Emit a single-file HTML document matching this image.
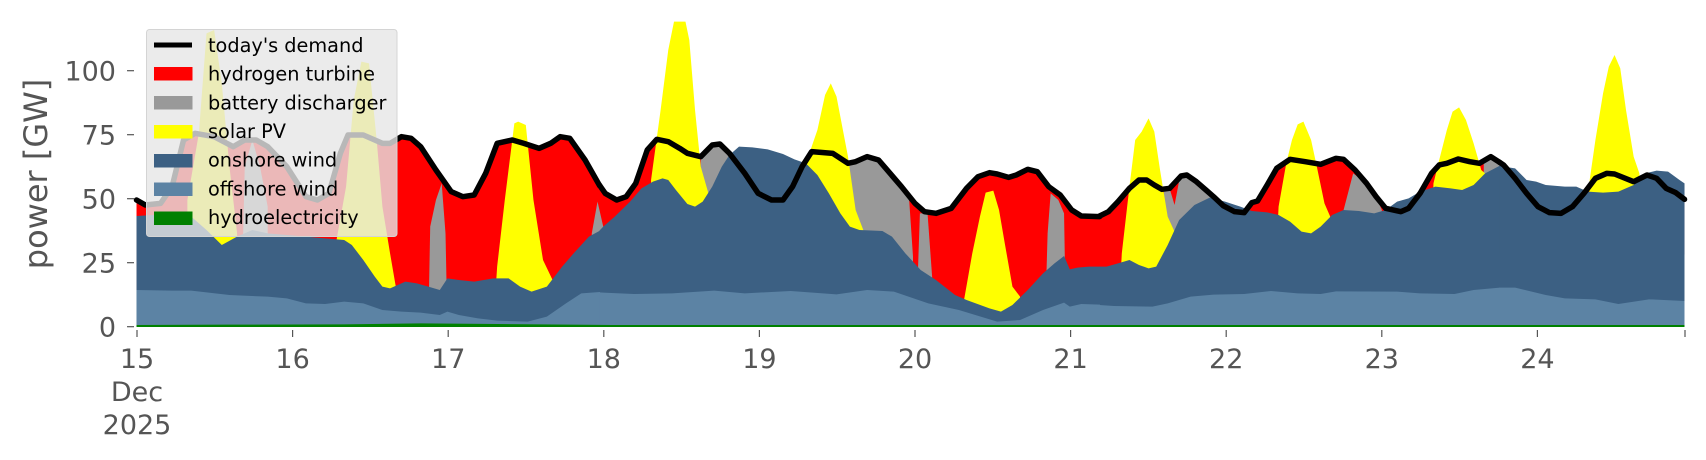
<!DOCTYPE html>
<html><head><meta charset="utf-8"><style>
html,body{margin:0;padding:0;background:#fff;}
svg{display:block;}
text{font-family:"DejaVu Sans","Liberation Sans",sans-serif;fill:#555;}
</style></head><body>
<svg width="1706" height="460" viewBox="0 0 1706 460" xmlns="http://www.w3.org/2000/svg">
<defs><clipPath id="c"><rect x="0" y="58" width="4500" height="930"/></clipPath></defs>
<g transform="scale(0.38241 0.33333)" clip-path="url(#c)">
 <g fill="#ff0000">
  <polygon points="357,600 380,615 420,610 450,560 480,420 510,400 560,410 610,440 640,420 670,420 700,440 750,500 800,590 830,600 860,580 890,460 910,405 950,405 1000,430 1020,430 1050,410 1075,415 1100,440 1140,510 1180,575 1210,590 1240,585 1270,520 1300,430 1340,420 1370,430 1410,445 1440,430 1465,410 1490,415 1530,480 1569,557 1569,980 357,980"/>
  <g transform="translate(1307.5,0)"><polygon points="260,555 275,580 305,600 330,590 355,550 385,450 410,418 440,425 470,445 490,460 525,470 555,435 575,432 600,460 640,520 675,580 710,600 740,600 765,560 790,500 815,455 870,460 890,475 910,490 930,485 960,470 990,480 1020,520 1050,560 1085,610 1110,635 1140,640 1180,625 1220,565 1250,530 1280,518 1300,522 1330,532 1350,525 1380,508 1405,515 1435,560 1465,585 1495,630 1520,648 1569,650 1569,980 260,980"/></g>
  <g transform="translate(2353.5,0)"><polygon points="522,648 545,635 570,605 600,565 625,540 645,540 665,555 685,568 705,565 735,528 750,525 775,545 800,570 820,590 845,617 875,635 900,638 920,608 935,603 960,555 985,505 1020,478 1060,485 1100,493 1140,475 1160,478 1190,510 1220,550 1245,590 1270,625 1310,635 1330,625 1360,580 1390,520 1410,495 1430,490 1460,477 1490,485 1515,490 1545,470 1569,487 1569,980 522,980"/></g>
  <g transform="translate(2892,0)"><polygon points="1029,487 1040,495 1070,535 1100,580 1130,620 1160,638 1190,640 1220,620 1250,580 1280,535 1310,520 1330,522 1380,545 1415,525 1440,535 1465,565 1490,578 1513,598 1513,980 1029,980"/></g>
 </g>
 <g fill="#999999">
  <polygon points="630,980 640,500 660,420 680,500 700,620 700,980"/>
  <polygon points="1120,980 1125,680 1140,600 1155,550 1165,700 1170,980"/>
  <g transform="translate(1307.5,0)">
   <polygon points="235,980 240,700 255,605 270,680 270,980"/>
   <polygon points="520,980 525,470 555,435 575,432 600,460 620,490 620,980"/>
   <polygon points="905,980 910,490 930,485 960,470 990,480 1020,520 1050,560 1070,600 1080,770 1080,980"/>
   <polygon points="1088,980 1098,640 1118,640 1130,830 1130,980"/>
   <polygon points="1425,980 1432,700 1440,580 1460,600 1475,640 1480,980"/>
  </g>
  <g transform="translate(2353.5,0)">
   <polygon points="690,980 690,560 705,565 735,528 750,525 775,545 800,570 820,590 830,605 830,980"/>
   <polygon points="1160,980 1160,630 1185,520 1220,550 1245,590 1260,630 1260,980"/>
  </g>
  <polygon points="3880,980 3880,490 3898,470 3915,480 3925,500 3925,980"/>
 </g>
 <g fill="#ff0000"><g transform="translate(2353.5,0)"><polygon points="705,565 732,530 718,615"/></g></g>
 <g fill="#ffff00">
  <polygon points="490,980 490,600 520,400 540,100 560,90 580,250 600,500 620,700 620,980"/>
  <polygon points="880,980 880,720 905,560 925,300 945,185 965,190 985,420 1000,620 1020,760 1035,860 1035,980"/>
  <polygon points="1290,980 1300,800 1320,600 1345,370 1355,365 1375,375 1395,600 1420,780 1445,840 1445,980"/>
  <g transform="translate(1307.5,0)">
   <polygon points="395,980 395,540 420,330 440,150 455,65 485,65 495,120 510,330 525,500 545,580 545,980"/>
   <polygon points="800,980 800,490 830,390 850,285 865,250 880,290 895,380 910,470 930,630 950,690 950,980"/>
   <polygon points="1200,980 1215,890 1235,760 1255,650 1270,578 1290,572 1305,630 1320,730 1340,860 1360,890 1360,980"/>
  </g>
  <g transform="translate(2353.5,0)">
   <polygon points="570,980 580,760 600,560 615,420 632,395 650,355 665,395 680,510 700,650 720,700 720,980"/>
   <polygon points="975,980 990,620 1010,490 1025,420 1040,373 1055,365 1075,420 1090,500 1110,610 1125,650 1125,980"/>
   <polygon points="1380,980 1395,550 1410,480 1430,390 1445,335 1462,322 1480,360 1500,430 1520,510 1530,520 1530,980"/>
  </g>
  <g transform="translate(2892,0)">
   <polygon points="1250,980 1265,540 1280,420 1300,280 1315,200 1330,165 1345,205 1360,330 1380,470 1395,520 1395,980"/>
  </g>
 </g>
 <g fill="#3c6083">
  <polygon points="357,648 400,645 450,640 500,650 540,690 580,735 620,710 660,690 700,700 750,705 800,710 850,715 900,720 920,735 950,780 980,830 1000,860 1020,865 1060,845 1090,850 1120,860 1150,870 1170,835 1200,840 1240,845 1290,835 1330,835 1360,860 1390,875 1430,860 1470,800 1500,760 1540,710 1569,692 1569,980 357,980"/>
  <g transform="translate(1307.5,0)"><polygon points="260,692 270,680 300,650 340,605 370,565 400,545 425,535 440,540 460,570 490,612 510,620 530,605 555,560 580,500 600,465 625,440 660,442 700,448 740,462 770,478 800,490 830,525 860,580 890,640 915,680 940,690 1000,693 1025,710 1060,760 1100,810 1140,840 1190,885 1220,900 1280,925 1310,935 1340,915 1380,870 1420,820 1450,790 1475,768 1490,808 1510,803 1540,800 1569,800 1569,980 260,980"/></g>
  <g transform="translate(2353.5,0)"><polygon points="521,800 540,800 570,790 600,780 625,795 650,805 670,800 700,735 730,660 770,615 810,593 850,605 890,620 920,633 960,637 990,645 1020,665 1050,695 1075,700 1100,680 1130,645 1160,630 1200,633 1240,640 1270,630 1300,605 1330,595 1360,575 1400,560 1440,565 1470,570 1500,555 1530,520 1569,497 1569,980 521,980"/></g>
  <g transform="translate(2892,0)"><polygon points="1029,497 1040,500 1070,505 1100,540 1125,545 1150,555 1200,560 1230,560 1260,575 1300,578 1340,575 1380,555 1410,520 1440,512 1470,515 1500,540 1513,550 1513,980 1029,980"/></g>
 </g>
 <g fill="#5c83a4">
  <polygon points="357,870 450,872 500,872 600,885 700,890 750,895 800,910 850,912 900,905 950,910 1000,930 1050,935 1100,938 1150,945 1170,935 1200,945 1250,955 1300,962 1380,965 1430,950 1480,910 1520,880 1569,876 1569,980 357,980"/>
  <g transform="translate(1307.5,0)"><polygon points="260,877 270,878 350,882 450,880 560,872 640,880 760,873 880,883 960,870 1030,875 1120,910 1200,930 1300,965 1360,960 1420,930 1475,908 1490,920 1520,912 1569,914 1569,980 260,980"/></g>
  <g transform="translate(2353.5,0)"><polygon points="521,915 560,918 660,920 700,910 760,890 820,884 900,882 970,873 1040,880 1100,882 1140,874 1300,875 1360,880 1450,882 1500,870 1569,863 1569,980 521,980"/></g>
  <g transform="translate(2892,0)"><polygon points="1029,863 1070,863 1150,885 1200,895 1280,898 1340,912 1420,898 1513,903 1513,980 1029,980"/></g>
 </g>
 <polygon fill="#008000" points="357,975 600,974 900,973 1100,970 1300,972 1600,975 4405,975 4405,981 357,981"/>
 <g fill="none" stroke="#000" stroke-width="5.5" stroke-linejoin="round" stroke-linecap="round">
  <polyline vector-effect="non-scaling-stroke" points="357,600 380,615 420,610 450,560 480,420 510,400 560,410 610,440 640,420 670,420 700,440 750,500 800,590 830,600 860,580 890,460 910,405 950,405 1000,430 1020,430 1050,410 1075,415 1100,440 1140,510 1180,575 1210,590 1240,585 1270,520 1300,430 1340,420 1370,430 1410,445 1440,430 1465,410 1490,415 1530,480 1568,557"/>
  <polyline transform="translate(1307.5,0)" vector-effect="non-scaling-stroke" points="260,555 275,580 305,600 330,590 355,550 385,450 410,418 440,425 470,445 490,460 525,470 555,435 575,432 600,460 640,520 675,580 710,600 740,600 765,560 790,500 815,455 870,460 890,475 910,490 930,485 960,470 990,480 1020,520 1050,560 1085,610 1110,635 1140,640 1180,625 1220,565 1250,530 1280,518 1300,522 1330,532 1350,525 1380,508 1405,515 1435,560 1465,585 1495,630 1520,648 1568,650"/>
  <polyline transform="translate(2353.5,0)" vector-effect="non-scaling-stroke" points="522,648 545,635 570,605 600,565 625,540 645,540 665,555 685,568 705,565 735,528 750,525 775,545 800,570 820,590 845,617 875,635 900,638 920,608 935,603 960,555 985,505 1020,478 1060,485 1100,493 1140,475 1160,478 1190,510 1220,550 1245,590 1270,625 1310,635 1330,625 1360,580 1390,520 1410,495 1430,490 1460,477 1490,485 1515,490 1545,470 1568,487"/>
  <polyline transform="translate(2892,0)" vector-effect="non-scaling-stroke" points="1029.5,487 1040,495 1070,535 1100,580 1130,620 1160,638 1190,640 1220,620 1250,580 1280,535 1310,520 1330,522 1380,545 1415,525 1440,535 1465,565 1490,578 1513,598"/>
 </g>
</g>
<g stroke="#555" stroke-width="1.2">
 <line x1="127" y1="326.7" x2="134" y2="326.7"/>
 <line x1="127" y1="262.7" x2="134" y2="262.7"/>
 <line x1="127" y1="198.7" x2="134" y2="198.7"/>
 <line x1="127" y1="134.7" x2="134" y2="134.7"/>
 <line x1="127" y1="70.7" x2="134" y2="70.7"/>
</g>
<g font-size="27" text-anchor="end">
 <text x="116" y="336.5">0</text>
 <text x="116" y="272.5">25</text>
 <text x="116" y="208.5">50</text>
 <text x="116" y="144.5">75</text>
 <text x="116" y="80.5">100</text>
</g>
<text transform="translate(47,174) rotate(-90)" font-size="32" text-anchor="middle">power [GW]</text>
<g stroke="#555" stroke-width="1.2">
 <line x1="137" y1="330" x2="137" y2="337"/><line x1="292.6" y1="330" x2="292.6" y2="337"/>
 <line x1="448.2" y1="330" x2="448.2" y2="337"/><line x1="603.8" y1="330" x2="603.8" y2="337"/>
 <line x1="759.4" y1="330" x2="759.4" y2="337"/><line x1="915" y1="330" x2="915" y2="337"/>
 <line x1="1070.6" y1="330" x2="1070.6" y2="337"/><line x1="1226.2" y1="330" x2="1226.2" y2="337"/>
 <line x1="1381.8" y1="330" x2="1381.8" y2="337"/><line x1="1537.4" y1="330" x2="1537.4" y2="337"/>
 <line x1="1685" y1="330" x2="1685" y2="337"/>
</g>
<g font-size="27" text-anchor="middle">
 <text x="137" y="368">15</text><text x="137" y="401">Dec</text><text x="137" y="434">2025</text>
 <text x="292.6" y="368">16</text><text x="448.2" y="368">17</text><text x="603.8" y="368">18</text>
 <text x="759.4" y="368">19</text><text x="915" y="368">20</text><text x="1070.6" y="368">21</text>
 <text x="1226.2" y="368">22</text><text x="1381.8" y="368">23</text><text x="1537.4" y="368">24</text>
</g>
<rect x="146.5" y="29.5" width="250.5" height="207" rx="3" fill="#e6e6e6" fill-opacity="0.8" stroke="#d4d4d4" stroke-width="1"/>
<line x1="154" y1="45" x2="192" y2="45" stroke="#000" stroke-width="5"/>
<rect x="154" y="67" width="38.5" height="13.5" fill="#ff0000"/>
<rect x="154" y="96" width="38.5" height="13.5" fill="#999999"/>
<rect x="154" y="125" width="38.5" height="13.5" fill="#ffff00"/>
<rect x="154" y="154" width="38.5" height="13.5" fill="#3c6083"/>
<rect x="154" y="182.5" width="38.5" height="13.5" fill="#5c83a4"/>
<rect x="154" y="211.5" width="38.5" height="13.5" fill="#008000"/>
<g font-size="19.3">
 <text x="208" y="52" style="fill:#000">today's demand</text>
 <text x="208" y="80.5" style="fill:#000">hydrogen turbine</text>
 <text x="208" y="109.5" style="fill:#000">battery discharger</text>
 <text x="208" y="138" style="fill:#000">solar PV</text>
 <text x="208" y="166.5" style="fill:#000">onshore wind</text>
 <text x="208" y="195.5" style="fill:#000">offshore wind</text>
 <text x="208" y="224" style="fill:#000">hydroelectricity</text>
</g>
</svg>
</body></html>
